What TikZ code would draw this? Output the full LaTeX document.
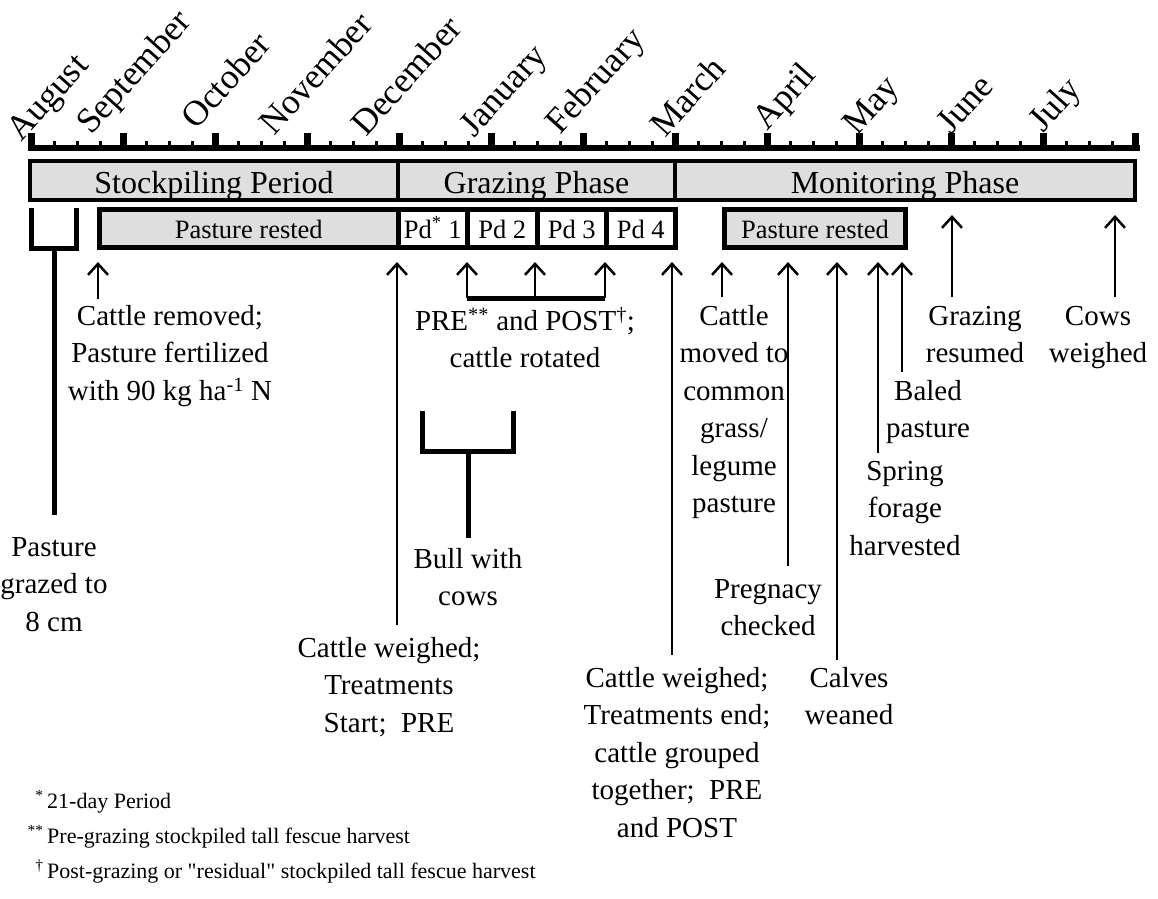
\documentclass[tikz,border=0pt]{standalone}
\usepackage{fontspec}
\setmainfont{Liberation Serif}
\newfontfamily\qfont{Liberation Serif}
\usetikzlibrary{arrows.meta}
\definecolor{hatch}{gray}{0.87}
\newcommand{\mainfs}{\fontsize{29}{37.5}\selectfont}
\newcommand{\monthfs}{\fontsize{35.5}{40}\selectfont}
\newcommand{\phasefs}{\fontsize{32}{38}\selectfont}
\newcommand{\boxfs}{\fontsize{26.5}{32}\selectfont}
\newcommand{\notefs}{\fontsize{22}{35}\selectfont}
\newcommand{\ftop}[1][20]{\rule{0pt}{#1pt}}
\newcommand{\sq}{{\qfont"}}
\begin{document}
\begin{tikzpicture}[x=1pt,y=-1pt,
  month/.style={font=\monthfs, rotate=48, anchor=base west, inner sep=0pt},
  phasebox/.style={draw, line width=4pt, fill=hatch, font=\phasefs, minimum height=39pt, inner sep=0pt, text height=25pt, text depth=0pt},
  subbox/.style={draw, line width=5pt, font=\boxfs, minimum height=38pt, inner sep=0pt, text height=19pt, text depth=0pt},
  lbl/.style={font=\mainfs, align=center, anchor=north, inner sep=0pt},
  note/.style={font=\notefs, anchor=base west, inner sep=0pt},
  arr/.style={line width=2.5pt, -{Straight Barb[length=11pt,width=20pt]}},
  brk/.style={line width=5pt},
  majtick/.style={line width=7pt},
  mintick/.style={line width=3pt}
]
\useasboundingbox (0,0) rectangle (1158,898);

% time axis
\draw[line width=6pt] (28,148) -- (1139.5,148);
\foreach \k in {0,...,12}{\draw[majtick] ({31+92.08*\k},133) -- ({31+92.08*\k},151);}
\foreach \k in {0,...,11}{\foreach \j in {1,2,3}{\draw[mintick] ({31+92.08*\k+23.02*\j},141) -- ({31+92.08*\k+23.02*\j},151);}}

% months
\node[month] (m1) at (21,143) {August};
\node[month] (m2) at (91,136) {September};
\node[month] (m3) at (196,131) {October};
\node[month] (m4) at (274,137) {November};
\node[month] (m5) at (366,138) {December};
\node[month] (m6) at (474,139) {January};
\node[month] (m7) at (560,136) {February};
\node[month] (m8) at (665,139) {March};
\node[month] (m9) at (767,132) {April};
\node[month] (m10) at (857,137) {May};
\node[month] (m11) at (951,136) {June};
\node[month] (m12) at (1043,134) {July};

% phases
\node[phasebox, minimum width=368pt] (stock) at (214,180.5) {Stockpiling Period};
\node[phasebox, minimum width=277pt] (graz) at (536.5,180.5) {Grazing Phase};
\node[phasebox, minimum width=460pt] (moni) at (905,180.5) {Monitoring Phase};

% sub boxes
\node[subbox, fill=hatch, minimum width=298.5pt] (rest1) at (248.75,228.5) {Pasture rested};
\node[subbox, fill=white, minimum width=69.5pt] (pd1) at (432.75,228.5) {Pd\textsuperscript{*} 1};
\node[subbox, fill=white, minimum width=69.5pt] (pd2) at (502.25,228.5) {Pd 2};
\node[subbox, fill=white, minimum width=69.5pt] (pd3) at (571.75,228.5) {Pd 3};
\node[subbox, fill=white, minimum width=68.5pt] (pd4) at (640.75,228.5) {Pd 4};
\node[subbox, fill=hatch, minimum width=181pt] (rest2) at (815,228.5) {Pasture rested};

% labels
\node[lbl] (removed) at (170,305) {\ftop Cattle removed;\\Pasture fertilized\\with 90 kg ha\textsuperscript{-1} N};
\node[lbl] (grazed) at (54,536) {\ftop Pasture\\grazed to\\8 cm};
\node[lbl] (start) at (389,637) {\ftop Cattle weighed;\\Treatments\\Start;~ PRE};
\node[lbl] (rotated) at (525,304) {\ftop[26]PRE\textsuperscript{**} and POST\textsuperscript{†};\\cattle rotated};
\node[lbl] (bull) at (468,548) {\ftop Bull with\\cows};
\node[lbl] (endt) at (677,667) {\ftop Cattle weighed;\\Treatments end;\\cattle grouped\\together;~ PRE\\and POST};
\node[lbl] (moved) at (734,305) {\ftop Cattle\\moved to\\common\\grass/\\legume\\pasture};
\node[lbl] (preg) at (768,578) {\ftop Pregnacy\\checked};
\node[lbl] (calves) at (849,667) {\ftop Calves\\weaned};
\node[lbl] (spring) at (905,460) {\ftop Spring\\forage\\harvested};
\node[lbl] (baled) at (928,380) {\ftop Baled\\pasture};
\node[lbl] (resumed) at (975,305) {\ftop Grazing\\resumed};
\node[lbl] (cowsw) at (1098,305) {\ftop Cows\\weighed};

% footnotes
\node[note] (n1) at (47,808) {\llap{\textsuperscript{*}\,}21-day Period};
\node[note] (n2) at (47,843) {\llap{\textsuperscript{**}\,}Pre-grazing stockpiled tall fescue harvest};
\node[note] (n3) at (47,878) {\llap{\textsuperscript{†}\,}Post-grazing or \sq residual\sq\ stockpiled tall fescue harvest};

% left bracket
\coordinate (lb1) at (31,208); \coordinate (lb2) at (76,208);
\coordinate (lbs) at (54,248); \coordinate (lbe) at (54,515);
\draw[brk] (lb1) |- (lbs) -| (lb2);
\draw[brk] (lbs) -- (lbe);

% bull bracket
\coordinate (bb1) at (422,411); \coordinate (bb2) at (513,411);
\coordinate (bbs) at (468,451); \coordinate (bbe) at (468,538);
\draw[brk] (bb1) |- (bbs) -| (bb2);
\draw[brk] (bbs) -- (bbe);

% PRE/POST bracket
\coordinate (p1) at (467,298); \coordinate (p2) at (535,298); \coordinate (p3) at (605,298);
\draw[brk] (p1) -- (p3);

% arrow tips
\coordinate (t1) at (98,262);
\coordinate (t2) at (397,262);
\coordinate (t3) at (467,262);
\coordinate (t4) at (535,262);
\coordinate (t5) at (605,262);
\coordinate (t6) at (672,262);
\coordinate (t7) at (722,262);
\coordinate (t8) at (788,262);
\coordinate (t9) at (837,262);
\coordinate (t10) at (878,262);
\coordinate (t11) at (902,262);
\coordinate (t12) at (952,215);
\coordinate (t13) at (1115,215);
% arrow tails
\coordinate (s1) at (98,299);
\coordinate (s2) at (397,625);
\coordinate (s6) at (672,655);
\coordinate (s7) at (722,297);
\coordinate (s8) at (788,566);
\coordinate (s9) at (837,660);
\coordinate (s10) at (878,453);
\coordinate (s11) at (902,372);
\coordinate (s12) at (952,297);
\coordinate (s13) at (1115,297);

\draw[arr] (s1) -- (t1);
\draw[arr] (s2) -- (t2);
\draw[arr] (p1) -- (t3);
\draw[arr] (p2) -- (t4);
\draw[arr] (p3) -- (t5);
\draw[arr] (s6) -- (t6);
\draw[arr] (s7) -- (t7);
\draw[arr] (s8) -- (t8);
\draw[arr] (s9) -- (t9);
\draw[arr] (s10) -- (t10);
\draw[arr] (s11) -- (t11);
\draw[arr] (s12) -- (t12);
\draw[arr] (s13) -- (t13);
\end{tikzpicture}
\end{document}
